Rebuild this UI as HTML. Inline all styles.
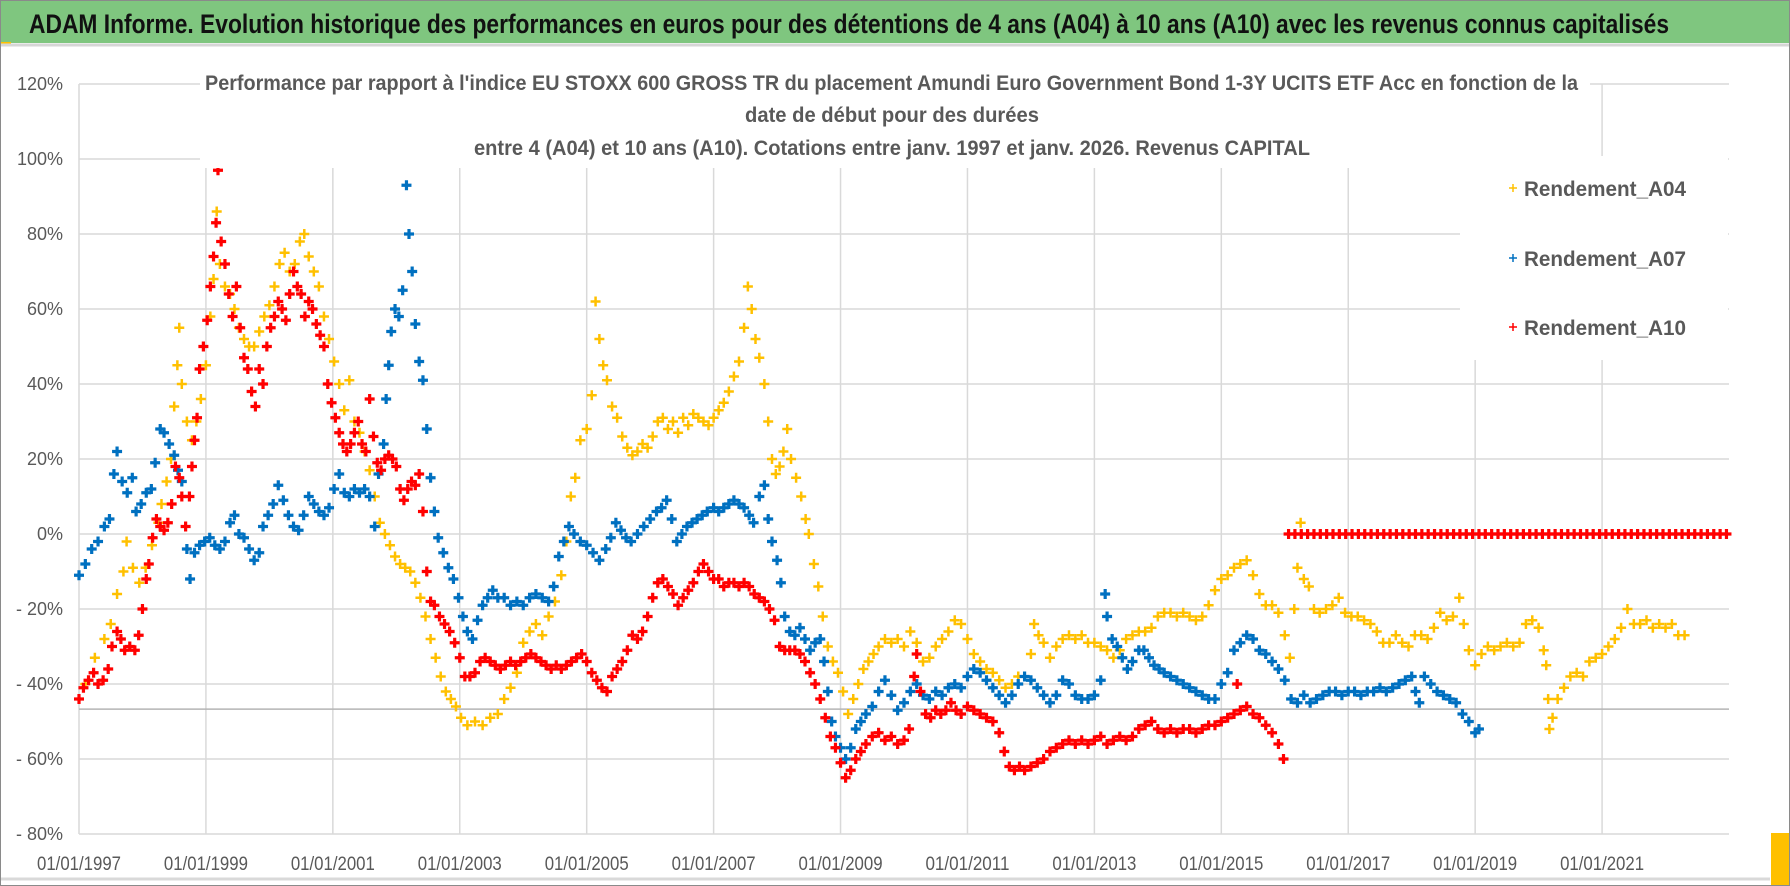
<!DOCTYPE html>
<html><head><meta charset="utf-8"><title>ADAM Informe</title>
<style>
html,body{margin:0;padding:0;background:#fff;}
svg{display:block;font-family:"Liberation Sans",sans-serif;}
</style></head>
<body>
<svg id="chart" width="1790" height="886" viewBox="0 0 1790 886" xmlns="http://www.w3.org/2000/svg">
  <rect x="0" y="0" width="1790" height="886" fill="#ffffff"/>
  <rect x="0" y="0" width="1790" height="43" fill="#7FC67F"/>
  <rect x="0" y="42" width="11" height="4" fill="#FFC000"/>
  <line x1="0" y1="45" x2="1790" y2="45" stroke="#d6d6d6" stroke-width="3"/>
  <text x="29" y="33" font-size="27" font-weight="bold" fill="#111" textLength="1640" lengthAdjust="spacingAndGlyphs">ADAM Informe. Evolution historique des performances en euros pour des détentions de 4 ans (A04) à 10 ans (A10) avec les revenus connus capitalisés</text>
  <g id="grid"></g>
  <g id="marks"></g>
  <rect x="200" y="62" width="1390" height="106" fill="#fff"/>
  <rect x="1460" y="156" width="268" height="204" fill="#fff"/>
  <g font-size="21" font-weight="bold" fill="#595959">
    <text x="205" y="90" textLength="1373" lengthAdjust="spacingAndGlyphs">Performance par rapport à l'indice EU STOXX 600 GROSS TR  du placement Amundi Euro Government Bond 1-3Y UCITS ETF Acc en fonction de la</text>
    <text x="745" y="122" textLength="294" lengthAdjust="spacingAndGlyphs">date de début pour des durées</text>
    <text x="474" y="155" textLength="836" lengthAdjust="spacingAndGlyphs">entre 4 (A04) et 10 ans (A10). Cotations entre janv. 1997 et janv. 2026. Revenus CAPITAL</text>
  </g>
  <g font-size="21" font-weight="bold" fill="#595959">
    <g>
      <path d="M1513 184v8M1509 188h8" stroke="#FFC000" stroke-width="1.5"/>
      <text x="1524" y="196" textLength="162" lengthAdjust="spacingAndGlyphs">Rendement_A04</text>
    </g>
    <g>
      <path d="M1513 254v8M1509 258h8" stroke="#0070C0" stroke-width="1.5"/>
      <text x="1524" y="266" textLength="162" lengthAdjust="spacingAndGlyphs">Rendement_A07</text>
    </g>
    <g>
      <path d="M1513 323v8M1509 327h8" stroke="#FF0000" stroke-width="1.5"/>
      <text x="1524" y="335" textLength="162" lengthAdjust="spacingAndGlyphs">Rendement_A10</text>
    </g>
  </g>
  <g id="yaxis" font-size="18" fill="#595959"></g>
  <g id="xaxis" font-size="19" fill="#595959"></g>
  <line x1="0" y1="879" x2="1770" y2="879" stroke="#d9d9d9" stroke-width="3"/>
  <rect x="1771" y="833" width="18" height="52" fill="#FFC000"/>
  <rect x="0.5" y="0.5" width="1789" height="885" fill="none" stroke="#8a8a8a" stroke-width="1"/>
</svg>
<script>
const yTicks = [120, 100, 80, 60, 40, 20, 0, -20, -40, -60, -80];
const yTickLabels = ["120%", "100%", "80%", "60%", "40%", "20%", "0%", "- 20%", "- 40%", "- 60%", "- 80%"];
const xTicks = [1997, 1999, 2001, 2003, 2005, 2007, 2009, 2011, 2013, 2015, 2017, 2019, 2021];
const xTickLabels = ["01/01/1997","01/01/1999","01/01/2001","01/01/2003","01/01/2005","01/01/2007","01/01/2009","01/01/2011","01/01/2013","01/01/2015","01/01/2017","01/01/2019","01/01/2021"];
const refLineValue = -46.7;

const a04Years = [1997.0,1997.1,1997.25,1997.4,1997.5,1997.6,1997.7,1997.75,1997.85,1997.95,1998.05,1998.15,1998.25,1998.3,1998.38,1998.45,1998.5,1998.55,1998.58,1998.62,1998.7,1998.78,1998.85,1998.92,1999.0,1999.07,1999.12,1999.17,1999.22,1999.3,1999.38,1999.45,1999.52,1999.6,1999.68,1999.76,1999.84,1999.92,2000.0,2000.08,2000.16,2000.24,2000.32,2000.4,2000.48,2000.55,2000.62,2000.7,2000.78,2000.86,2000.94,2001.02,2001.1,2001.18,2001.26,2001.34,2001.42,2001.5,2001.58,2001.66,2001.74,2001.82,2001.9,2001.98,2002.06,2002.14,2002.22,2002.3,2002.38,2002.46,2002.54,2002.62,2002.7,2002.78,2002.86,2002.94,2003.02,2003.12,2003.24,2003.36,2003.48,2003.6,2003.7,2003.8,2003.9,2004.0,2004.1,2004.2,2004.3,2004.4,2004.5,2004.6,2004.68,2004.75,2004.82,2004.9,2005.0,2005.08,2005.14,2005.2,2005.26,2005.32,2005.4,2005.48,2005.56,2005.64,2005.72,2005.8,2005.88,2005.96,2006.04,2006.12,2006.2,2006.28,2006.36,2006.44,2006.52,2006.6,2006.68,2006.76,2006.84,2006.92,2007.0,2007.08,2007.16,2007.24,2007.32,2007.4,2007.48,2007.54,2007.6,2007.66,2007.72,2007.8,2007.86,2007.92,2007.98,2008.04,2008.1,2008.16,2008.22,2008.3,2008.38,2008.45,2008.5,2008.58,2008.65,2008.72,2008.8,2008.88,2008.96,2009.04,2009.12,2009.2,2009.28,2009.36,2009.44,2009.52,2009.6,2009.7,2009.8,2009.9,2010.0,2010.1,2010.2,2010.3,2010.4,2010.5,2010.6,2010.7,2010.8,2010.9,2011.0,2011.1,2011.2,2011.3,2011.4,2011.5,2011.6,2011.7,2011.8,2011.9,2012.0,2012.05,2012.12,2012.2,2012.3,2012.4,2012.5,2012.6,2012.7,2012.8,2012.9,2013.0,2013.1,2013.2,2013.3,2013.4,2013.5,2013.6,2013.7,2013.8,2013.9,2014.0,2014.1,2014.2,2014.3,2014.4,2014.5,2014.6,2014.7,2014.8,2014.9,2015.0,2015.1,2015.2,2015.3,2015.4,2015.5,2015.6,2015.7,2015.8,2015.9,2016.0,2016.08,2016.15,2016.2,2016.25,2016.3,2016.38,2016.46,2016.55,2016.65,2016.75,2016.85,2016.95,2017.05,2017.15,2017.25,2017.35,2017.45,2017.55,2017.65,2017.75,2017.85,2017.95,2018.05,2018.15,2018.25,2018.35,2018.45,2018.55,2018.65,2018.75,2018.82,2018.9,2019.0,2019.1,2019.2,2019.3,2019.4,2019.5,2019.6,2019.7,2019.8,2019.9,2020.0,2020.08,2020.12,2020.15,2020.17,2020.22,2020.3,2020.4,2020.5,2020.6,2020.7,2020.8,2020.9,2021.0,2021.1,2021.2,2021.3,2021.4,2021.5,2021.6,2021.7,2021.8,2021.9,2022.0,2022.1,2022.2,2022.3];
const a04Values = [-44,-40,-33,-28,-24,-16,-10,-2,-9,-13,-9,-3,3,8,14,20,34,45,55,40,30,25,30,36,45,58,68,86,72,66,64,60,55,52,50,50,54,58,61,66,72,75,70,72,78,80,74,70,66,58,52,46,40,33,41,30,27,22,17,10,3,0,-3,-6,-8,-9,-10,-13,-17,-22,-28,-33,-38,-42,-44,-46,-49,-51,-50,-51,-49,-48,-44,-41,-37,-29,-26,-24,-27,-22,-18,-11,-2,10,15,25,28,37,62,52,45,41,34,31,26,23,21,22,24,23,26,30,31,28,30,27,31,29,32,31,30,29,31,33,35,38,42,46,55,66,60,52,47,40,30,20,16,18,22,28,20,15,10,4,0,-8,-14,-22,-30,-34,-37,-42,-48,-44,-40,-36,-34,-32,-30,-28,-29,-28,-30,-26,-29,-34,-33,-30,-28,-26,-23,-24,-28,-32,-34,-36,-37,-39,-41,-40,-38,-38,-32,-24,-27,-29,-33,-30,-28,-27,-28,-27,-29,-29,-30,-31,-33,-31,-28,-27,-26,-26,-25,-22,-21,-21,-22,-21,-22,-23,-22,-19,-15,-12,-11,-9,-8,-7,-11,-16,-19,-19,-21,-27,-33,-20,-9,3,-12,-14,-20,-21,-20,-19,-17,-21,-22,-22,-23,-24,-26,-29,-29,-27,-29,-30,-27,-27,-28,-25,-21,-23,-22,-17,-24,-31,-35,-32,-30,-31,-30,-29,-30,-29,-24,-23,-25,-31,-35,-44,-52,-49,-44,-41,-38,-37,-38,-34,-33,-32,-30,-28,-25,-20,-24,-24,-23,-25,-24,-25,-24,-27,-27];

const a07Years = [1997.0,1997.1,1997.2,1997.3,1997.4,1997.48,1997.55,1997.6,1997.68,1997.76,1997.84,1997.9,1997.98,1998.06,1998.14,1998.2,1998.28,1998.34,1998.42,1998.5,1998.56,1998.62,1998.7,1998.75,1998.82,1998.9,1998.98,1999.06,1999.14,1999.22,1999.3,1999.38,1999.45,1999.52,1999.6,1999.68,1999.76,1999.84,1999.9,1999.98,2000.06,2000.14,2000.22,2000.3,2000.38,2000.46,2000.54,2000.62,2000.7,2000.78,2000.86,2000.94,2001.02,2001.1,2001.18,2001.26,2001.34,2001.42,2001.5,2001.58,2001.66,2001.72,2001.8,2001.84,2001.88,2001.92,2001.98,2002.04,2002.1,2002.16,2002.2,2002.25,2002.3,2002.36,2002.42,2002.48,2002.54,2002.6,2002.66,2002.74,2002.82,2002.9,2002.98,2003.05,2003.12,2003.2,2003.28,2003.36,2003.44,2003.52,2003.6,2003.7,2003.8,2003.9,2004.0,2004.1,2004.2,2004.3,2004.4,2004.48,2004.56,2004.64,2004.72,2004.8,2004.9,2005.0,2005.1,2005.2,2005.3,2005.38,2005.46,2005.54,2005.62,2005.7,2005.8,2005.9,2006.0,2006.1,2006.18,2006.26,2006.34,2006.42,2006.5,2006.58,2006.66,2006.74,2006.82,2006.9,2007.0,2007.08,2007.16,2007.24,2007.32,2007.4,2007.48,2007.56,2007.63,2007.72,2007.8,2007.86,2007.92,2008.0,2008.06,2008.12,2008.2,2008.28,2008.36,2008.44,2008.52,2008.6,2008.68,2008.74,2008.8,2008.86,2008.92,2009.0,2009.08,2009.16,2009.24,2009.32,2009.4,2009.5,2009.6,2009.7,2009.8,2009.9,2010.0,2010.1,2010.2,2010.3,2010.4,2010.5,2010.6,2010.7,2010.8,2010.9,2011.0,2011.1,2011.2,2011.3,2011.4,2011.5,2011.6,2011.7,2011.8,2011.9,2012.0,2012.1,2012.2,2012.3,2012.4,2012.5,2012.6,2012.7,2012.8,2012.9,2013.0,2013.1,2013.17,2013.2,2013.28,2013.36,2013.44,2013.52,2013.6,2013.7,2013.78,2013.86,2013.94,2014.02,2014.1,2014.2,2014.3,2014.4,2014.5,2014.6,2014.7,2014.8,2014.9,2015.0,2015.1,2015.2,2015.3,2015.4,2015.5,2015.6,2015.7,2015.8,2015.9,2016.0,2016.1,2016.2,2016.3,2016.4,2016.5,2016.6,2016.7,2016.8,2016.9,2017.0,2017.1,2017.2,2017.3,2017.4,2017.5,2017.6,2017.7,2017.8,2017.9,2018.0,2018.06,2018.12,2018.2,2018.3,2018.4,2018.5,2018.6,2018.7,2018.8,2018.9,2019.0,2019.06];
const a07Values = [-11,-8,-4,-2,2,4,16,22,14,11,15,6,8,11,12,19,28,27,24,21,17,14,-4,-12,-5,-3,-2,-1,-3,-4,-2,3,5,0,-1,-4,-7,-5,2,5,8,13,9,5,2,1,5,10,8,6,5,7,12,16,11,10,12,11,12,10,2,16,24,36,45,54,60,58,65,93,80,70,56,46,41,28,15,6,-1,-5,-9,-12,-17,-22,-26,-28,-23,-19,-17,-15,-17,-17,-19,-18,-19,-17,-16,-17,-18,-14,-6,-2,2,0,-2,-3,-5,-7,-4,-1,3,1,-1,-2,0,2,4,6,7,9,4,-2,0,2,3,4,5,6,7,6,7,8,9,8,7,5,3,10,13,4,-2,-7,-13,-22,-26,-27,-25,-28,-31,-29,-28,-34,-42,-50,-54,-57,-60,-57,-52,-50,-48,-46,-42,-39,-43,-47,-45,-42,-40,-43,-44,-42,-43,-41,-40,-41,-38,-36,-37,-39,-41,-43,-45,-43,-40,-38,-39,-41,-43,-45,-43,-39,-40,-43,-44,-44,-43,-39,-16,-22,-28,-30,-33,-36,-34,-31,-31,-33,-35,-36,-37,-38,-39,-40,-41,-42,-43,-44,-44,-40,-37,-31,-29,-27,-28,-31,-32,-34,-36,-39,-44,-45,-43,-45,-44,-43,-42,-42,-43,-42,-42,-43,-42,-42,-41,-42,-41,-40,-39,-38,-42,-45,-38,-40,-42,-43,-44,-45,-48,-50,-53,-52];

const a10Years = [1997.0,1997.07,1997.15,1997.23,1997.3,1997.38,1997.46,1997.52,1997.6,1997.66,1997.72,1997.8,1997.88,1997.94,1998.0,1998.06,1998.1,1998.16,1998.22,1998.28,1998.34,1998.4,1998.46,1998.52,1998.58,1998.62,1998.68,1998.74,1998.78,1998.82,1998.86,1998.9,1998.96,1999.02,1999.07,1999.12,1999.16,1999.19,1999.24,1999.3,1999.36,1999.42,1999.48,1999.54,1999.6,1999.66,1999.72,1999.78,1999.84,1999.9,1999.96,2000.02,2000.08,2000.14,2000.2,2000.26,2000.32,2000.38,2000.44,2000.5,2000.56,2000.62,2000.68,2000.74,2000.8,2000.86,2000.92,2000.98,2001.04,2001.1,2001.16,2001.22,2001.28,2001.34,2001.4,2001.46,2001.52,2001.58,2001.64,2001.7,2001.76,2001.82,2001.88,2001.94,2002.0,2002.06,2002.12,2002.18,2002.24,2002.3,2002.36,2002.42,2002.48,2002.54,2002.6,2002.68,2002.76,2002.84,2002.92,2003.0,2003.08,2003.16,2003.24,2003.32,2003.4,2003.48,2003.56,2003.64,2003.72,2003.8,2003.88,2003.96,2004.04,2004.12,2004.2,2004.28,2004.36,2004.44,2004.52,2004.6,2004.68,2004.76,2004.84,2004.92,2005.0,2005.08,2005.16,2005.24,2005.32,2005.4,2005.48,2005.56,2005.64,2005.72,2005.8,2005.88,2005.96,2006.04,2006.12,2006.2,2006.28,2006.36,2006.44,2006.52,2006.6,2006.68,2006.76,2006.84,2006.92,2007.0,2007.08,2007.16,2007.24,2007.32,2007.4,2007.48,2007.56,2007.64,2007.72,2007.8,2007.88,2007.96,2008.04,2008.12,2008.2,2008.28,2008.36,2008.44,2008.52,2008.6,2008.68,2008.76,2008.84,2008.92,2009.0,2009.08,2009.16,2009.24,2009.32,2009.4,2009.5,2009.6,2009.7,2009.8,2009.9,2010.0,2010.08,2010.16,2010.2,2010.26,2010.34,2010.42,2010.5,2010.58,2010.66,2010.74,2010.82,2010.9,2011.0,2011.1,2011.2,2011.3,2011.4,2011.5,2011.58,2011.66,2011.74,2011.82,2011.9,2012.0,2012.1,2012.2,2012.3,2012.4,2012.5,2012.6,2012.7,2012.8,2012.9,2013.0,2013.1,2013.2,2013.3,2013.4,2013.5,2013.6,2013.7,2013.8,2013.9,2014.0,2014.1,2014.2,2014.3,2014.4,2014.5,2014.6,2014.7,2014.8,2014.9,2015.0,2015.1,2015.2,2015.25,2015.3,2015.4,2015.5,2015.6,2015.7,2015.8,2015.9,2015.98,
2016.06,2016.16,2016.26,2016.36,2016.46,2016.56,2016.66,2016.76,2016.86,2016.96,2017.06,2017.16,2017.26,2017.36,2017.46,2017.56,2017.66,2017.76,2017.86,2017.96,2018.06,2018.16,2018.26,2018.36,2018.46,2018.56,2018.66,2018.76,2018.86,2018.96,2019.06,2019.16,2019.26,2019.36,2019.46,2019.56,2019.66,2019.76,2019.86,2019.96,2020.06,2020.16,2020.26,2020.36,2020.46,2020.56,2020.66,2020.76,2020.86,2020.96,2021.06,2021.16,2021.26,2021.36,2021.46,2021.56,2021.66,2021.76,2021.86,2021.96,2022.06,2022.16,2022.26,2022.36,2022.46,2022.56,2022.66,2022.76,2022.86,2022.96];
const a10Values = [-44,-41,-39,-37,-40,-39,-36,-30,-26,-28,-31,-30,-31,-27,-20,-12,-8,-1,4,2,1,3,8,18,15,10,2,10,18,25,31,44,50,57,66,74,83,97,78,72,64,58,66,55,47,44,38,34,44,40,50,55,58,62,60,57,64,70,66,64,58,62,60,56,53,50,40,35,31,27,24,22,24,27,30,24,22,36,26,19,17,20,21,20,18,12,9,12,14,13,16,6,-10,-18,-19,-22,-24,-26,-29,-33,-38,-38,-37,-34,-33,-34,-35,-36,-35,-34,-35,-34,-33,-32,-33,-34,-35,-36,-35,-36,-35,-34,-33,-32,-34,-37,-39,-41,-42,-38,-36,-34,-31,-27,-28,-26,-22,-17,-13,-12,-14,-16,-19,-17,-15,-13,-10,-8,-10,-12,-12,-14,-13,-13,-14,-13,-14,-16,-17,-18,-20,-23,-30,-31,-31,-31,-32,-34,-37,-40,-44,-49,-54,-57,-61,-65,-63,-60,-58,-56,-54,-53,-55,-54,-56,-55,-52,-38,-32,-42,-48,-49,-47,-48,-47,-45,-47,-48,-46,-47,-48,-49,-50,-53,-58,-62,-63,-62,-63,-62,-61,-60,-58,-57,-56,-55,-56,-55,-56,-55,-54,-56,-55,-54,-55,-54,-52,-51,-50,-52,-53,-52,-53,-52,-52,-53,-52,-51,-51,-50,-49,-48,-40,-47,-46,-48,-49,-51,-53,-56,-60,
0,0,0,0,0,0,0,0,0,0,0,0,0,0,0,0,0,0,0,0,0,0,0,0,0,0,0,0,0,0,0,0,0,0,0,0,0,0,0,0,0,0,0,0,0,0,0,0,0,0,0,0,0,0,0,0,0,0,0,0,0,0,0,0,0,0,0,0,0,0];

const NS = "http://www.w3.org/2000/svg";
const X0 = 79, X1 = 1729, YEAR0 = 1997, YEAR1 = 2023;
const Y_TOP = 84, Y_BOT = 834, VMAX = 120, VMIN = -80;
function xs(year){ return X0 + (year - YEAR0) * (X1 - X0) / (YEAR1 - YEAR0); }
function ys(v){ return Y_TOP + (VMAX - v) * (Y_BOT - Y_TOP) / (VMAX - VMIN); }

const grid = document.getElementById('grid');
yTicks.forEach(function(t){
  const l = document.createElementNS(NS, 'line');
  l.setAttribute('x1', X0); l.setAttribute('x2', X1);
  l.setAttribute('y1', ys(t)); l.setAttribute('y2', ys(t));
  l.setAttribute('stroke', '#d9d9d9'); l.setAttribute('stroke-width', '1.5');
  
  
  grid.appendChild(l);
});
xTicks.forEach(function(t){
  const l = document.createElementNS(NS, 'line');
  l.setAttribute('x1', xs(t)); l.setAttribute('x2', xs(t));
  l.setAttribute('y1', Y_TOP); l.setAttribute('y2', Y_BOT);
  l.setAttribute('stroke', '#d9d9d9'); l.setAttribute('stroke-width', '1.5');
  
  
  grid.appendChild(l);
});
const ref = document.createElementNS(NS, 'line');
ref.setAttribute('x1', X0); ref.setAttribute('x2', X1);
ref.setAttribute('y1', ys(refLineValue)); ref.setAttribute('y2', ys(refLineValue));
ref.setAttribute('stroke', '#b5b5b5'); ref.setAttribute('stroke-width', '1.5');


grid.appendChild(ref);

const ya = document.getElementById('yaxis');
yTicks.forEach(function(t, i){
  const tx = document.createElementNS(NS, 'text');
  tx.setAttribute('x', 63); tx.setAttribute('y', ys(t) + 6);
  tx.setAttribute('text-anchor', 'end');
  tx.textContent = yTickLabels[i];
  
  
  ya.appendChild(tx);
});
const xa = document.getElementById('xaxis');
xTicks.forEach(function(t, i){
  const tx = document.createElementNS(NS, 'text');
  tx.setAttribute('x', xs(t) - 42); tx.setAttribute('y', 870);
  tx.setAttribute('textLength', 84);
  tx.setAttribute('lengthAdjust', 'spacingAndGlyphs');
  tx.textContent = xTickLabels[i];
  
  
  xa.appendChild(tx);
});

const marks = document.getElementById('marks');
function drawSeries(years, vals, color, sw, name){
  const g = document.createElementNS(NS, 'g');
  
  
  g.setAttribute('stroke', color);
  g.setAttribute('stroke-width', sw);
  for (let i = 0; i < years.length; i++){
    const cx = xs(years[i]), cy = ys(vals[i]), h = 5;
    const p = document.createElementNS(NS, 'path');
    p.setAttribute('d', 'M' + (cx - h) + ' ' + cy + 'H' + (cx + h) + 'M' + cx + ' ' + (cy - h) + 'V' + (cy + h));
    
    
    g.appendChild(p);
  }
  marks.appendChild(g);
}
drawSeries(a04Years, a04Values, '#FFC000', 2.5, 'series-rendement-a04');
drawSeries(a07Years, a07Values, '#0070C0', 3.2, 'series-rendement-a07');
drawSeries(a10Years, a10Values, '#FF0000', 3.2, 'series-rendement-a10');
</script>
</body></html>
